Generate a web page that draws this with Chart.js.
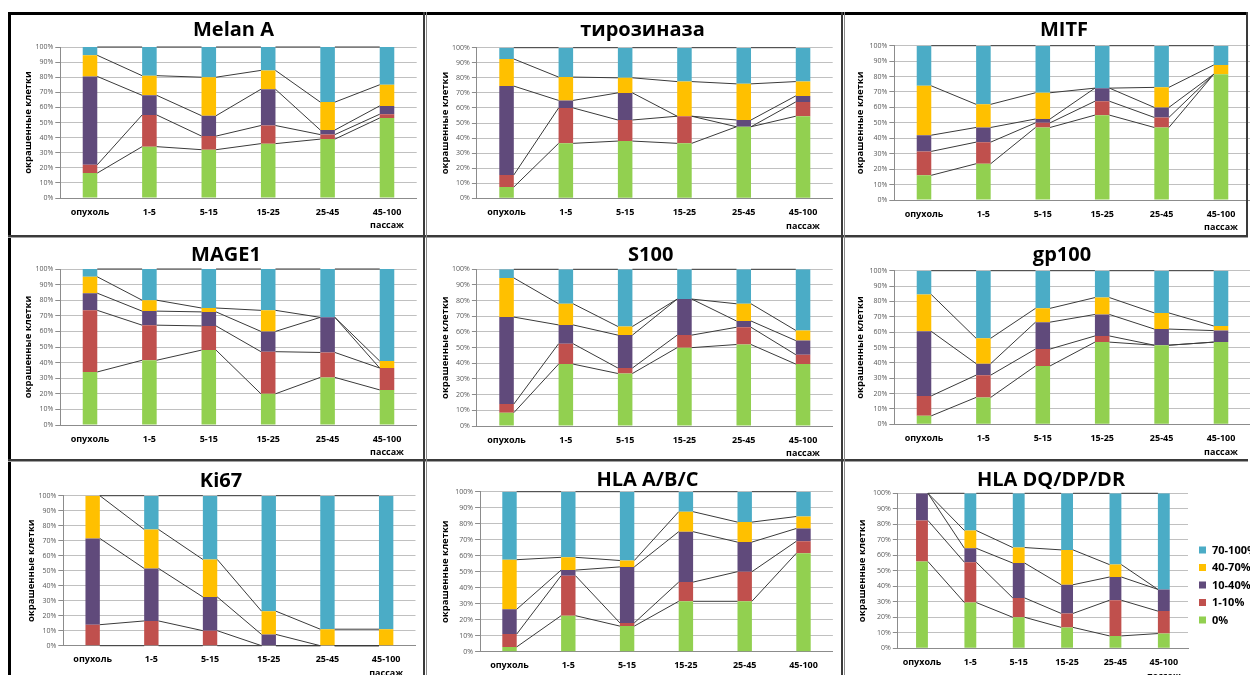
<!DOCTYPE html>
<html>
<head>
<meta charset="utf-8">
<script src="https://cdn.jsdelivr.net/npm/chart.js@4/dist/chart.umd.min.js"></script>
<style>
  html, body { margin: 0; padding: 0; background: #fff; }
  body { width: 1250px; height: 675px; overflow: hidden; position: relative; font-family: 'Open Sans', sans-serif; }
  canvas { position: absolute; }
  .rule { position: absolute; }
</style>
</head>
<body>
<script>
// Categories (passage ranges) and staining-intensity groups
const categories = ['опухоль', '1-5', '5-15', '15-25', '25-45', ['45-100', 'пассаж']];
const seriesNames = ['0%', '1-10%', '10-40%', '40-70%', '70-100%'];
const seriesColors = ['#92D050', '#C0504D', '#604A7B', '#FFC000', '#4BACC6'];
const yTicks = [0, 10, 20, 30, 40, 50, 60, 70, 80, 90, 100];

// Share of cells per intensity group; rows follow seriesNames, columns follow categories
const melanA = [
  [16.5, 34, 32, 36, 39, 53],
  [5.5, 21, 9, 12, 3, 2.5],
  [58.5, 13, 13.5, 24, 3, 5.5],
  [14, 13, 25.5, 12.5, 18.5, 14],
  [5.5, 19, 20, 15.5, 36.5, 25]
];
const tyrosinase = [
  [7.5, 36.5, 38, 36.5, 47.5, 54.5],
  [8, 23.5, 14, 18, 0, 9.5],
  [59, 5, 18, 0, 4.5, 4],
  [18, 15.5, 10, 23, 24, 9.5],
  [7.5, 19.5, 20, 22.5, 24, 22.5]
];
const mitf = [
  [16, 23.5, 47, 55, 47, 81.5],
  [15.5, 14, 3, 9, 6.5, 0],
  [10.5, 9.5, 2.5, 8.5, 6.5, 0],
  [32, 15, 17, 0, 13, 6],
  [26, 38, 30.5, 27.5, 27, 12.5]
];
const mage1 = [
  [34, 41.5, 48, 20, 30.5, 22.5],
  [39.5, 22.5, 15.5, 27, 16, 14],
  [11, 9, 9, 13, 22.5, 0],
  [10.5, 7, 2.5, 13.5, 0, 4.5],
  [5, 20, 25, 26.5, 31, 59]
];
const s100 = [
  [8.5, 39.5, 33.5, 50, 52, 39.5],
  [5.5, 13, 3.5, 8, 11, 6],
  [55.5, 12, 21, 23, 4, 9],
  [25, 13.5, 5.5, 0, 11, 6.5],
  [5.5, 22, 36.5, 19, 22, 39]
];
const gp100 = [
  [5.5, 17.5, 38, 53.5, 51.5, 53.5],
  [13, 14.5, 11, 4, 0, 0],
  [42, 7.5, 17.5, 14, 10.5, 7.5],
  [24, 16.5, 9, 11, 10.5, 3],
  [15.5, 44, 24.5, 17.5, 27.5, 36]
];
const ki67 = [
  [0, 0, 0, 0, 0, 0],
  [14, 16.5, 10, 0, 0, 0],
  [57.5, 35, 22.5, 7.5, 0, 0],
  [28.5, 26, 25, 15.5, 11, 11],
  [0, 22.5, 42.5, 77, 89, 89]
];
const hlaABC = [
  [3, 22.5, 16, 31.5, 31.5, 61.5],
  [8, 25, 2, 12, 18.5, 7.5],
  [15.5, 3.5, 35, 31.5, 18.5, 8],
  [31, 8, 4, 12.5, 12.5, 7.5],
  [42.5, 41, 43, 12.5, 19, 15.5]
];
const hlaDR = [
  [56, 29.5, 20, 13.5, 8, 9.5],
  [26.5, 26, 12.5, 9, 23, 14.5],
  [17.5, 9, 22.5, 18.5, 15, 14],
  [0, 11.5, 10, 22.5, 8, 0],
  [0, 24, 35, 36.5, 46, 62]
];

// Page geometry of each panel: canvas box, plot area, title and axis-title anchors
const panels = [
  { title: 'Melan A',     values: melanA,     box: [11, 15, 413, 221],  area: [60.3, 47, 416.7, 198],     tx: 233.5, ty: 36,  yx: 28 },
  { title: 'тирозиназа',  values: tyrosinase, box: [428, 15, 414, 221], area: [476.9, 47.7, 832.7, 198.3], tx: 642.5, ty: 36,  yx: 445 },
  { title: 'MITF',        values: mitf,       box: [846, 15, 412, 221], area: [894.3, 45.7, 1250.7, 200], tx: 1064,  ty: 36,  yx: 860 },
  { title: 'MAGE1',       values: mage1,      box: [11, 239, 413, 221], area: [60.3, 269, 416.7, 425],     tx: 226,   ty: 260.5, yx: 28 },
  { title: 'S100',        values: s100,       box: [428, 239, 414, 221], area: [476.9, 269.3, 832.7, 426], tx: 650.7, ty: 261, yx: 445 },
  { title: 'gp100',       values: gp100,      box: [846, 239, 412, 221], area: [894.3, 270.7, 1250.7, 424.3], tx: 1062, ty: 261, yx: 860 },
  { title: 'Ki67',        values: ki67,       box: [11, 463, 413, 227], area: [63.3, 495.7, 415.5, 645.7],  tx: 221,   ty: 487, yx: 31.7 },
  { title: 'HLA A/B/C',   values: hlaABC,     box: [428, 463, 414, 227], area: [480.1, 491.7, 832.9, 651.7], tx: 647.5, ty: 485.5, yx: 445 },
  { title: 'HLA DQ/DP/DR', values: hlaDR,     box: [846, 463, 412, 227], area: [897.8, 493.3, 1188, 648.3], tx: 1051, ty: 486, yx: 862, legend: true }
];

// Excel-style series lines joining the tops of matching segments in neighbouring bars
const seriesLines = {
  id: 'seriesLines',
  afterDatasetsDraw(chart) {
    const ctx = chart.ctx;
    ctx.save();
    ctx.strokeStyle = '#3a3a3a';
    ctx.lineWidth = 1;
    chart.data.datasets.forEach((ds, d) => {
      const bars = chart.getDatasetMeta(d).data;
      ctx.beginPath();
      for (let i = 0; i < bars.length - 1; i++) {
        const a = bars[i], b = bars[i + 1];
        ctx.moveTo(a.x + a.width / 2, a.y);
        ctx.lineTo(b.x - b.width / 2, b.y);
      }
      ctx.stroke();
    });
    ctx.restore();
  }
};

// Panel title, rotated value-axis title and (optionally) the legend
const panelText = {
  id: 'panelText',
  afterDraw(chart, args, opts) {
    const ctx = chart.ctx;
    const p = opts.panel;
    const ox = p.box[0], oy = p.box[1];
    ctx.save();
    ctx.fillStyle = '#000';
    ctx.textAlign = 'center';
    ctx.textBaseline = 'alphabetic';
    ctx.font = 'bold 20px "Open Sans"';
    ctx.fillText(p.title, p.tx - ox, p.ty - oy);

    const ca = chart.chartArea;
    ctx.save();
    ctx.translate(p.yx - ox, (ca.top + ca.bottom) / 2);
    ctx.rotate(-Math.PI / 2);
    ctx.textBaseline = 'middle';
    ctx.font = 'bold 9.5px "Open Sans"';
    ctx.fillText('окрашенные клетки', 0, 0);
    ctx.restore();

    if (p.legend) {
      ctx.textAlign = 'left';
      ctx.textBaseline = 'middle';
      ctx.font = 'bold 11px "Open Sans"';
      const n = chart.data.datasets.length;
      for (let k = 0; k < n; k++) {
        const ds = chart.data.datasets[n - 1 - k];
        const cy = 550 + k * 17.5 - oy;
        ctx.fillStyle = ds.backgroundColor;
        ctx.fillRect(1199 - ox, cy - 3.5, 7, 7);
        ctx.fillStyle = '#000';
        ctx.fillText(ds.label, 1212 - ox, cy + 0.5);
      }
    }
    ctx.restore();
  }
};

function drawPanel(p) {
  const [bx, by, bw, bh] = p.box;
  const [al, at, ar, ab] = p.area;
  const cv = document.createElement('canvas');
  cv.width = bw; cv.height = bh;
  cv.style.left = bx + 'px'; cv.style.top = by + 'px';
  cv.style.width = bw + 'px'; cv.style.height = bh + 'px';
  document.body.appendChild(cv);

  new Chart(cv, {
    type: 'bar',
    data: {
      labels: categories,
      datasets: seriesNames.map((name, i) => ({
        label: name,
        data: p.values[i],
        backgroundColor: seriesColors[i],
        borderWidth: 0,
        barPercentage: 0.245,
        categoryPercentage: 1
      }))
    },
    options: {
      responsive: false,
      animation: false,
      devicePixelRatio: 1,
      layout: { padding: { left: 0, top: at - by, right: bx + bw - ar, bottom: 0 } },
      plugins: {
        legend: { display: false },
        title: { display: false },
        tooltip: { enabled: false },
        panelText: { panel: p }
      },
      scales: {
        x: {
          stacked: true,
          grid: { display: false, drawTicks: false },
          border: { display: true, color: '#8c8c8c', width: 1 },
          ticks: {
            autoSkip: false, maxRotation: 0, padding: 7,
            color: '#000',
            font: { family: 'Open Sans', weight: 'bold', size: 9, lineHeight: 1.55 }
          },
          afterFit(scale) { scale.height = by + bh - ab; }
        },
        y: {
          stacked: true,
          min: 0, max: 100,
          afterBuildTicks(scale) { scale.ticks = yTicks.map(v => ({ value: v })); },
          grid: { color: '#c0c0c0', lineWidth: 1, drawTicks: true, tickLength: 5, tickColor: '#8c8c8c' },
          border: { display: true, color: '#8c8c8c', width: 1 },
          ticks: {
            autoSkip: false, padding: 2, color: '#595959',
            font: { family: 'Open Sans', size: 7 },
            callback: v => v + '%'
          },
          afterFit(scale) { scale.width = al - bx; }
        }
      }
    },
    plugins: [seriesLines, panelText]
  });
}

panels.forEach(drawPanel);

// Frame lines around the panel grid
function rule(x, y, w, h, color) {
  const d = document.createElement('div');
  d.className = 'rule';
  d.style.cssText = `left:${x}px;top:${y}px;width:${w}px;height:${h}px;background:${color}`;
  document.body.appendChild(d);
}
rule(8, 12, 1240, 3, '#000');
rule(8, 12, 3, 663, '#000');
rule(8, 235, 1240, 2, '#3a3a3a');
rule(8, 237, 1240, 1, '#a0a0a0');
rule(8, 459, 1240, 2, '#3a3a3a');
rule(8, 461, 1240, 1, '#a0a0a0');
rule(423, 12, 2, 663, '#3a3a3a');
rule(426, 12, 1, 663, '#8a8a8a');
rule(841, 12, 2, 663, '#3a3a3a');
rule(844, 12, 1, 663, '#8a8a8a');
rule(1246, 12, 2, 224, '#3a3a3a');
</script>
</body>
</html>
